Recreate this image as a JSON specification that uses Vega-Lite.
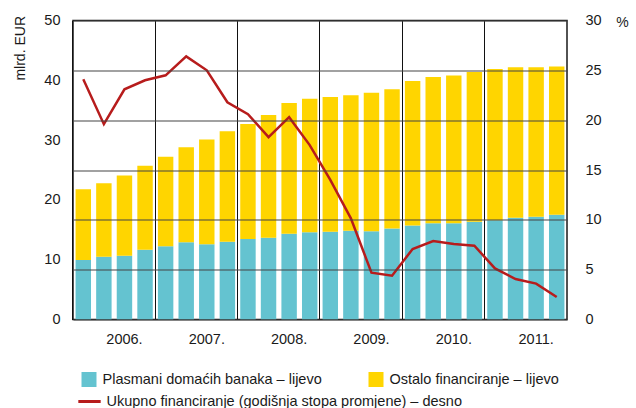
{
  "$schema": "https://vega.github.io/schema/vega-lite/v6.json",
  "autosize": "none",
  "width": 494,
  "height": 299,
  "padding": {"left": 73, "top": 20.5, "right": 69, "bottom": 88.5},
  "background": "white",
  "config": {
    "font": "Liberation Sans",
    "view": {"stroke": "#1a1a1a", "strokeWidth": 1.5},
    "axis": {"labelFont": "Liberation Sans", "labelFontSize": 14.5, "labelColor": "#1a1a1a", "titleFont": "Liberation Sans", "titleFontSize": 14, "titleFontWeight": "normal", "titleColor": "#1a1a1a", "ticks": false, "domain": false},
    "legend": {"labelFont": "Liberation Sans", "labelFontSize": 14.5, "labelColor": "#1a1a1a", "labelLimit": 600, "padding": 0}
  },
  "datasets": {
    "bars": [
      {"q": "2006Q1", "series": "Plasmani domaćih banaka – lijevo", "value": 9.95},
      {"q": "2006Q2", "series": "Plasmani domaćih banaka – lijevo", "value": 10.5},
      {"q": "2006Q3", "series": "Plasmani domaćih banaka – lijevo", "value": 10.67},
      {"q": "2006Q4", "series": "Plasmani domaćih banaka – lijevo", "value": 11.67},
      {"q": "2007Q1", "series": "Plasmani domaćih banaka – lijevo", "value": 12.24},
      {"q": "2007Q2", "series": "Plasmani domaćih banaka – lijevo", "value": 12.9},
      {"q": "2007Q3", "series": "Plasmani domaćih banaka – lijevo", "value": 12.57},
      {"q": "2007Q4", "series": "Plasmani domaćih banaka – lijevo", "value": 13.0},
      {"q": "2008Q1", "series": "Plasmani domaćih banaka – lijevo", "value": 13.46},
      {"q": "2008Q2", "series": "Plasmani domaćih banaka – lijevo", "value": 13.68},
      {"q": "2008Q3", "series": "Plasmani domaćih banaka – lijevo", "value": 14.35},
      {"q": "2008Q4", "series": "Plasmani domaćih banaka – lijevo", "value": 14.58},
      {"q": "2009Q1", "series": "Plasmani domaćih banaka – lijevo", "value": 14.68},
      {"q": "2009Q2", "series": "Plasmani domaćih banaka – lijevo", "value": 14.85},
      {"q": "2009Q3", "series": "Plasmani domaćih banaka – lijevo", "value": 14.75},
      {"q": "2009Q4", "series": "Plasmani domaćih banaka – lijevo", "value": 15.2},
      {"q": "2010Q1", "series": "Plasmani domaćih banaka – lijevo", "value": 15.7},
      {"q": "2010Q2", "series": "Plasmani domaćih banaka – lijevo", "value": 16.1},
      {"q": "2010Q3", "series": "Plasmani domaćih banaka – lijevo", "value": 16.1},
      {"q": "2010Q4", "series": "Plasmani domaćih banaka – lijevo", "value": 16.35},
      {"q": "2011Q1", "series": "Plasmani domaćih banaka – lijevo", "value": 16.6},
      {"q": "2011Q2", "series": "Plasmani domaćih banaka – lijevo", "value": 17.0},
      {"q": "2011Q3", "series": "Plasmani domaćih banaka – lijevo", "value": 17.2},
      {"q": "2011Q4", "series": "Plasmani domaćih banaka – lijevo", "value": 17.5},
      {"q": "2006Q1", "series": "Ostalo financiranje – lijevo", "value": 11.85},
      {"q": "2006Q2", "series": "Ostalo financiranje – lijevo", "value": 12.3},
      {"q": "2006Q3", "series": "Ostalo financiranje – lijevo", "value": 13.43},
      {"q": "2006Q4", "series": "Ostalo financiranje – lijevo", "value": 14.03},
      {"q": "2007Q1", "series": "Ostalo financiranje – lijevo", "value": 14.96},
      {"q": "2007Q2", "series": "Ostalo financiranje – lijevo", "value": 15.9},
      {"q": "2007Q3", "series": "Ostalo financiranje – lijevo", "value": 17.53},
      {"q": "2007Q4", "series": "Ostalo financiranje – lijevo", "value": 18.5},
      {"q": "2008Q1", "series": "Ostalo financiranje – lijevo", "value": 19.24},
      {"q": "2008Q2", "series": "Ostalo financiranje – lijevo", "value": 20.52},
      {"q": "2008Q3", "series": "Ostalo financiranje – lijevo", "value": 21.85},
      {"q": "2008Q4", "series": "Ostalo financiranje – lijevo", "value": 22.32},
      {"q": "2009Q1", "series": "Ostalo financiranje – lijevo", "value": 22.52},
      {"q": "2009Q2", "series": "Ostalo financiranje – lijevo", "value": 22.65},
      {"q": "2009Q3", "series": "Ostalo financiranje – lijevo", "value": 23.15},
      {"q": "2009Q4", "series": "Ostalo financiranje – lijevo", "value": 23.3},
      {"q": "2010Q1", "series": "Ostalo financiranje – lijevo", "value": 24.2},
      {"q": "2010Q2", "series": "Ostalo financiranje – lijevo", "value": 24.45},
      {"q": "2010Q3", "series": "Ostalo financiranje – lijevo", "value": 24.7},
      {"q": "2010Q4", "series": "Ostalo financiranje – lijevo", "value": 25.05},
      {"q": "2011Q1", "series": "Ostalo financiranje – lijevo", "value": 25.3},
      {"q": "2011Q2", "series": "Ostalo financiranje – lijevo", "value": 25.2},
      {"q": "2011Q3", "series": "Ostalo financiranje – lijevo", "value": 25.0},
      {"q": "2011Q4", "series": "Ostalo financiranje – lijevo", "value": 24.8}
    ],
    "line": [
      {"q": "2006Q1", "series": "Ukupno financiranje (godišnja stopa promjene) – desno", "rate": 24.1},
      {"q": "2006Q2", "series": "Ukupno financiranje (godišnja stopa promjene) – desno", "rate": 19.6},
      {"q": "2006Q3", "series": "Ukupno financiranje (godišnja stopa promjene) – desno", "rate": 23.1},
      {"q": "2006Q4", "series": "Ukupno financiranje (godišnja stopa promjene) – desno", "rate": 24.0},
      {"q": "2007Q1", "series": "Ukupno financiranje (godišnja stopa promjene) – desno", "rate": 24.5},
      {"q": "2007Q2", "series": "Ukupno financiranje (godišnja stopa promjene) – desno", "rate": 26.4},
      {"q": "2007Q3", "series": "Ukupno financiranje (godišnja stopa promjene) – desno", "rate": 25.0},
      {"q": "2007Q4", "series": "Ukupno financiranje (godišnja stopa promjene) – desno", "rate": 21.8},
      {"q": "2008Q1", "series": "Ukupno financiranje (godišnja stopa promjene) – desno", "rate": 20.6},
      {"q": "2008Q2", "series": "Ukupno financiranje (godišnja stopa promjene) – desno", "rate": 18.3},
      {"q": "2008Q3", "series": "Ukupno financiranje (godišnja stopa promjene) – desno", "rate": 20.3},
      {"q": "2008Q4", "series": "Ukupno financiranje (godišnja stopa promjene) – desno", "rate": 17.5},
      {"q": "2009Q1", "series": "Ukupno financiranje (godišnja stopa promjene) – desno", "rate": 14.0},
      {"q": "2009Q2", "series": "Ukupno financiranje (godišnja stopa promjene) – desno", "rate": 10.15},
      {"q": "2009Q3", "series": "Ukupno financiranje (godišnja stopa promjene) – desno", "rate": 4.7},
      {"q": "2009Q4", "series": "Ukupno financiranje (godišnja stopa promjene) – desno", "rate": 4.4},
      {"q": "2010Q1", "series": "Ukupno financiranje (godišnja stopa promjene) – desno", "rate": 7.07},
      {"q": "2010Q2", "series": "Ukupno financiranje (godišnja stopa promjene) – desno", "rate": 7.87},
      {"q": "2010Q3", "series": "Ukupno financiranje (godišnja stopa promjene) – desno", "rate": 7.57},
      {"q": "2010Q4", "series": "Ukupno financiranje (godišnja stopa promjene) – desno", "rate": 7.4},
      {"q": "2011Q1", "series": "Ukupno financiranje (godišnja stopa promjene) – desno", "rate": 5.13},
      {"q": "2011Q2", "series": "Ukupno financiranje (godišnja stopa promjene) – desno", "rate": 4.06},
      {"q": "2011Q3", "series": "Ukupno financiranje (godišnja stopa promjene) – desno", "rate": 3.6},
      {"q": "2011Q4", "series": "Ukupno financiranje (godišnja stopa promjene) – desno", "rate": 2.26}
    ]
  },
  "encoding": {
    "x": {
      "field": "q",
      "type": "ordinal",
      "scale": {"type": "band", "paddingInner": 0.25, "paddingOuter": 0.125},
      "axis": {
        "title": null,
        "orient": "bottom",
        "bandPosition": -0.1667,
        "labelAngle": 0,
        "labelPadding": 13,
        "labelOverlap": false,
        "labelBound": false,
        "labelExpr": "indexof(datum.value, 'Q3') >= 0 ? slice(datum.value, 0, 4) + '.' : ''",
        "grid": true,
        "gridColor": "#111111",
        "gridWidth": 1,
        "gridOpacity": {"condition": {"test": "indexof(datum.value, 'Q1') >= 0", "value": 1}, "value": 0}
      }
    }
  },
  "layer": [
    {
      "data": {"name": "bars"},
      "mark": {"type": "bar"},
      "encoding": {
        "y": {
          "field": "value",
          "type": "quantitative",
          "stack": "zero",
          "scale": {"domain": [0, 50], "nice": false},
          "axis": {"orient": "left", "values": [0, 10, 20, 30, 40, 50], "grid": false, "labelPadding": 13, "title": "mlrd. EUR", "titleAngle": -90, "titleAlign": "right", "titleBaseline": "middle", "titleX": -53, "titleY": -5}
        },
        "color": {
          "field": "series",
          "type": "nominal",
          "sort": ["Plasmani domaćih banaka – lijevo", "Ostalo financiranje – lijevo"],
          "scale": {"domain": ["Plasmani domaćih banaka – lijevo", "Ostalo financiranje – lijevo"], "range": ["#64C3D0", "#FFD500"]},
          "legend": {"title": null, "orient": "none", "legendX": 8.5, "legendY": 351.5, "direction": "horizontal", "symbolType": "square", "symbolSize": 225, "symbolStrokeWidth": 0, "labelOffset": 6, "columnPadding": 46}
        }
      }
    },
    {
      "data": {"name": "line"},
      "mark": {"type": "line", "strokeWidth": 2.5},
      "encoding": {
        "y": {
          "field": "rate",
          "type": "quantitative",
          "scale": {"domain": [0, 30], "nice": false},
          "axis": {"orient": "right", "values": [0, 5, 10, 15, 20, 25, 30], "grid": true, "gridColor": "#444444", "gridWidth": 1.2, "zindex": 1, "labelPadding": 18, "title": "%", "titleAngle": 0, "titleAlign": "center", "titleBaseline": "middle", "titleX": 55, "titleY": 1.5}
        },
        "stroke": {
          "field": "series",
          "type": "nominal",
          "scale": {"range": ["#B71C1C"]},
          "legend": {"title": null, "orient": "none", "legendX": 3.5, "legendY": 368, "symbolType": "stroke", "symbolSize": 500, "symbolStrokeWidth": 3, "labelOffset": 4}
        }
      }
    }
  ],
  "resolve": {"scale": {"y": "independent"}}
}
